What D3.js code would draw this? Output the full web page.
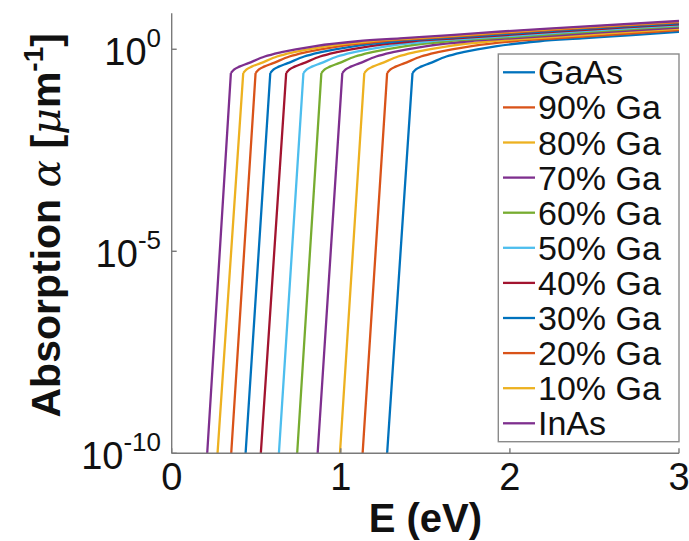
<!DOCTYPE html>
<html>
<head>
<meta charset="utf-8">
<script src="https://cdn.jsdelivr.net/npm/d3@7"></script>
<style>
  html, body { margin: 0; padding: 0; background: #fff; }
  svg { display: block; font-family: "Liberation Sans", Arial, Helvetica, sans-serif; }
</style>
</head>
<body>
<svg id="chart" width="689" height="541"></svg>
<script>
// Absorption spectra of In(1-x)Ga(x)As alloys: [photon energy (eV), alpha (1/um)]
const seriesNames = ["GaAs", "90% Ga", "80% Ga", "70% Ga", "60% Ga", "50% Ga",
                     "40% Ga", "30% Ga", "20% Ga", "10% Ga", "InAs"];

const curveGaAs = [[1.274,1e-10],[1.424,0.257],[1.444,0.316],[1.474,0.372],[1.524,0.447],[1.624,0.661],
  [1.724,0.851],[1.924,1.20],[2.174,1.58],[2.424,1.86],[2.724,2.24],[3.0,2.71]];
const curveGa90 = [[1.129,1e-10],[1.274,0.257],[1.294,0.316],[1.324,0.372],[1.374,0.447],[1.474,0.661],
  [1.574,0.851],[1.774,1.20],[2.024,1.58],[2.274,1.86],[2.574,2.24],[2.874,2.75],[3.0,2.96]];
const curveGa80 = [[0.995,1e-10],[1.139,0.257],[1.159,0.316],[1.189,0.372],[1.239,0.447],[1.339,0.661],
  [1.439,0.851],[1.639,1.20],[1.889,1.58],[2.139,1.86],[2.439,2.24],[2.739,2.75],[3.0,3.20]];
const curveGa70 = [[0.863,1e-10],[1.009,0.257],[1.029,0.316],[1.059,0.372],[1.109,0.447],[1.209,0.661],
  [1.309,0.851],[1.509,1.20],[1.759,1.58],[2.009,1.86],[2.309,2.24],[2.609,2.75],[3.0,3.45]];
const curveGa60 = [[0.742,1e-10],[0.885,0.257],[0.905,0.316],[0.935,0.372],[0.985,0.447],[1.085,0.661],
  [1.185,0.851],[1.385,1.20],[1.635,1.58],[1.885,1.86],[2.185,2.24],[2.485,2.75],[2.885,3.47],[3.0,3.70]];
const curveGa50 = [[0.634,1e-10],[0.779,0.257],[0.799,0.316],[0.829,0.372],[0.879,0.447],[0.979,0.661],
  [1.079,0.851],[1.279,1.20],[1.529,1.58],[1.779,1.86],[2.079,2.24],[2.379,2.75],[2.779,3.47],[3.0,3.93]];
const curveGa40 = [[0.527,1e-10],[0.677,0.257],[0.697,0.316],[0.727,0.372],[0.777,0.447],[0.877,0.661],
  [0.977,0.851],[1.177,1.20],[1.427,1.58],[1.677,1.86],[1.977,2.24],[2.277,2.75],[2.677,3.47],[3.0,4.16]];
const curveGa30 = [[0.437,1e-10],[0.583,0.257],[0.603,0.316],[0.633,0.372],[0.683,0.447],[0.783,0.661],
  [0.883,0.851],[1.083,1.20],[1.333,1.58],[1.583,1.86],[1.883,2.24],[2.183,2.75],[2.583,3.47],[3.0,4.39]];
const curveGa20 = [[0.352,1e-10],[0.496,0.257],[0.516,0.316],[0.546,0.372],[0.596,0.447],[0.696,0.661],
  [0.796,0.851],[0.996,1.20],[1.246,1.58],[1.496,1.86],[1.796,2.24],[2.096,2.75],[2.496,3.47],[3.0,4.61]];
const curveGa10 = [[0.271,1e-10],[0.423,0.257],[0.443,0.316],[0.473,0.372],[0.523,0.447],[0.623,0.661],
  [0.723,0.851],[0.923,1.20],[1.173,1.58],[1.423,1.86],[1.723,2.24],[2.023,2.75],[2.423,3.47],[3.0,4.81]];
const curveInAs = [[0.210,1e-10],[0.350,0.257],[0.370,0.316],[0.400,0.372],[0.450,0.447],[0.550,0.661],
  [0.650,0.851],[0.850,1.20],[1.100,1.58],[1.350,1.86],[1.650,2.24],[1.950,2.75],[2.350,3.47],[3.0,5.01]];

const curves = [curveGaAs, curveGa90, curveGa80, curveGa70, curveGa60, curveGa50,
                curveGa40, curveGa30, curveGa20, curveGa10, curveInAs];

const xTicks = [0, 1, 2, 3];
const yTicks = [1e-10, 1e-5, 1];
const yTickExponents = ["-10", "-5", "0"];

// MATLAB default line colour order
const palette = ["#0072BD", "#D95319", "#EDB120", "#7E2F8E", "#77AC30", "#4DBEEE", "#A2142F"];

const svg = d3.select("#chart");
const plot = { left: 171.7, right: 679, top: 13.3, bottom: 453.3 };

const x = d3.scaleLinear().domain([0, 3]).range([plot.left, plot.right]);
const y = d3.scaleLog().domain([1e-10, Math.pow(10, 0.89)]).range([plot.bottom, plot.top]);

svg.append("defs").append("clipPath").attr("id", "clip")
  .append("rect")
  .attr("x", plot.left).attr("y", plot.top)
  .attr("width", plot.right - plot.left).attr("height", plot.bottom - plot.top);

// Curves: the steep sub-gap tail is straight, the part above the gap is smoothed
const tailLine = d3.line().x(d => x(d[0])).y(d => y(d[1]));
const bandLine = d3.line().x(d => x(d[0])).y(d => y(d[1])).curve(d3.curveMonotoneX);

const gCurves = svg.append("g").attr("clip-path", "url(#clip)");
curves.forEach((pts, i) => {
  const color = palette[i % palette.length];
  gCurves.append("path")
    .attr("d", tailLine(pts.slice(0, 2)) + bandLine(pts.slice(1)))
    .attr("fill", "none")
    .attr("stroke", color)
    .attr("stroke-width", 2.3)
    .attr("stroke-linejoin", "round");
});

// Axes (left and bottom only, ticks pointing inward)
const axisColor = "#7a7a7a";
const gAxes = svg.append("g");
gAxes.append("line")
  .attr("x1", plot.left).attr("x2", plot.left)
  .attr("y1", plot.top).attr("y2", plot.bottom)
  .attr("stroke", axisColor).attr("stroke-width", 1.4);
gAxes.append("line")
  .attr("x1", plot.left).attr("x2", plot.right)
  .attr("y1", plot.bottom).attr("y2", plot.bottom)
  .attr("stroke", axisColor).attr("stroke-width", 1.4);

xTicks.forEach(t => {
  gAxes.append("line")
    .attr("x1", x(t)).attr("x2", x(t))
    .attr("y1", plot.bottom).attr("y2", plot.bottom - 5)
    .attr("stroke", axisColor).attr("stroke-width", 1.4);
  svg.append("text")
    .attr("x", x(t)).attr("y", 490)
    .attr("text-anchor", "middle")
    .attr("font-size", 38)
    .attr("fill", "#111")
    .text(t);
});

yTicks.forEach((t, i) => {
  gAxes.append("line")
    .attr("x1", plot.left).attr("x2", plot.left + 5)
    .attr("y1", y(t)).attr("y2", y(t))
    .attr("stroke", axisColor).attr("stroke-width", 1.4);
  const label = svg.append("text")
    .attr("x", 161).attr("y", y(t) + 16)
    .attr("text-anchor", "end")
    .attr("font-size", 38)
    .attr("fill", "#111");
  label.append("tspan").text("10");
  label.append("tspan")
    .attr("font-size", 26)
    .attr("dy", -18)
    .text(yTickExponents[i]);
});

// Axis titles
svg.append("text")
  .attr("x", (plot.left + plot.right) / 2).attr("y", 532)
  .attr("text-anchor", "middle")
  .attr("font-size", 40)
  .attr("font-weight", "bold")
  .attr("fill", "#111")
  .text("E (eV)");

const yTitle = svg.append("text")
  .attr("transform", `translate(60, ${(plot.top + plot.bottom) / 2 - 8}) rotate(-90)`)
  .attr("text-anchor", "middle")
  .attr("font-size", 41)
  .attr("font-weight", "bold")
  .attr("fill", "#111");
yTitle.append("tspan").text("Absorption ");
yTitle.append("tspan")
  .attr("font-family", "'DejaVu Serif', 'Liberation Serif', serif")
  .attr("font-style", "italic").attr("font-weight", "normal")
  .text("α");
yTitle.append("tspan").text(" [");
yTitle.append("tspan")
  .attr("font-family", "'DejaVu Serif', 'Liberation Serif', serif")
  .attr("font-style", "italic").attr("font-weight", "normal")
  .text("μ");
yTitle.append("tspan").text("m");
yTitle.append("tspan").attr("font-size", 28).attr("dy", -17).text("-1");
yTitle.append("tspan").attr("dy", 17).text("]");

// Legend
const legend = { left: 498.3, top: 54, right: 679, bottom: 441.7, firstRow: 72.3, rowStep: 35.1 };
svg.append("rect")
  .attr("x", legend.left).attr("y", legend.top)
  .attr("width", legend.right - legend.left).attr("height", legend.bottom - legend.top)
  .attr("fill", "#fff")
  .attr("stroke", "#8a8a8a").attr("stroke-width", 1.4);

seriesNames.forEach((name, i) => {
  const ry = legend.firstRow + i * legend.rowStep;
  svg.append("line")
    .attr("x1", 503).attr("x2", 535)
    .attr("y1", ry).attr("y2", ry)
    .attr("stroke", palette[i % palette.length])
    .attr("stroke-width", 2.3);
  svg.append("text")
    .attr("x", 538).attr("y", ry + 12)
    .attr("font-size", 34)
    .attr("fill", "#111")
    .text(name);
});
</script>
</body>
</html>
